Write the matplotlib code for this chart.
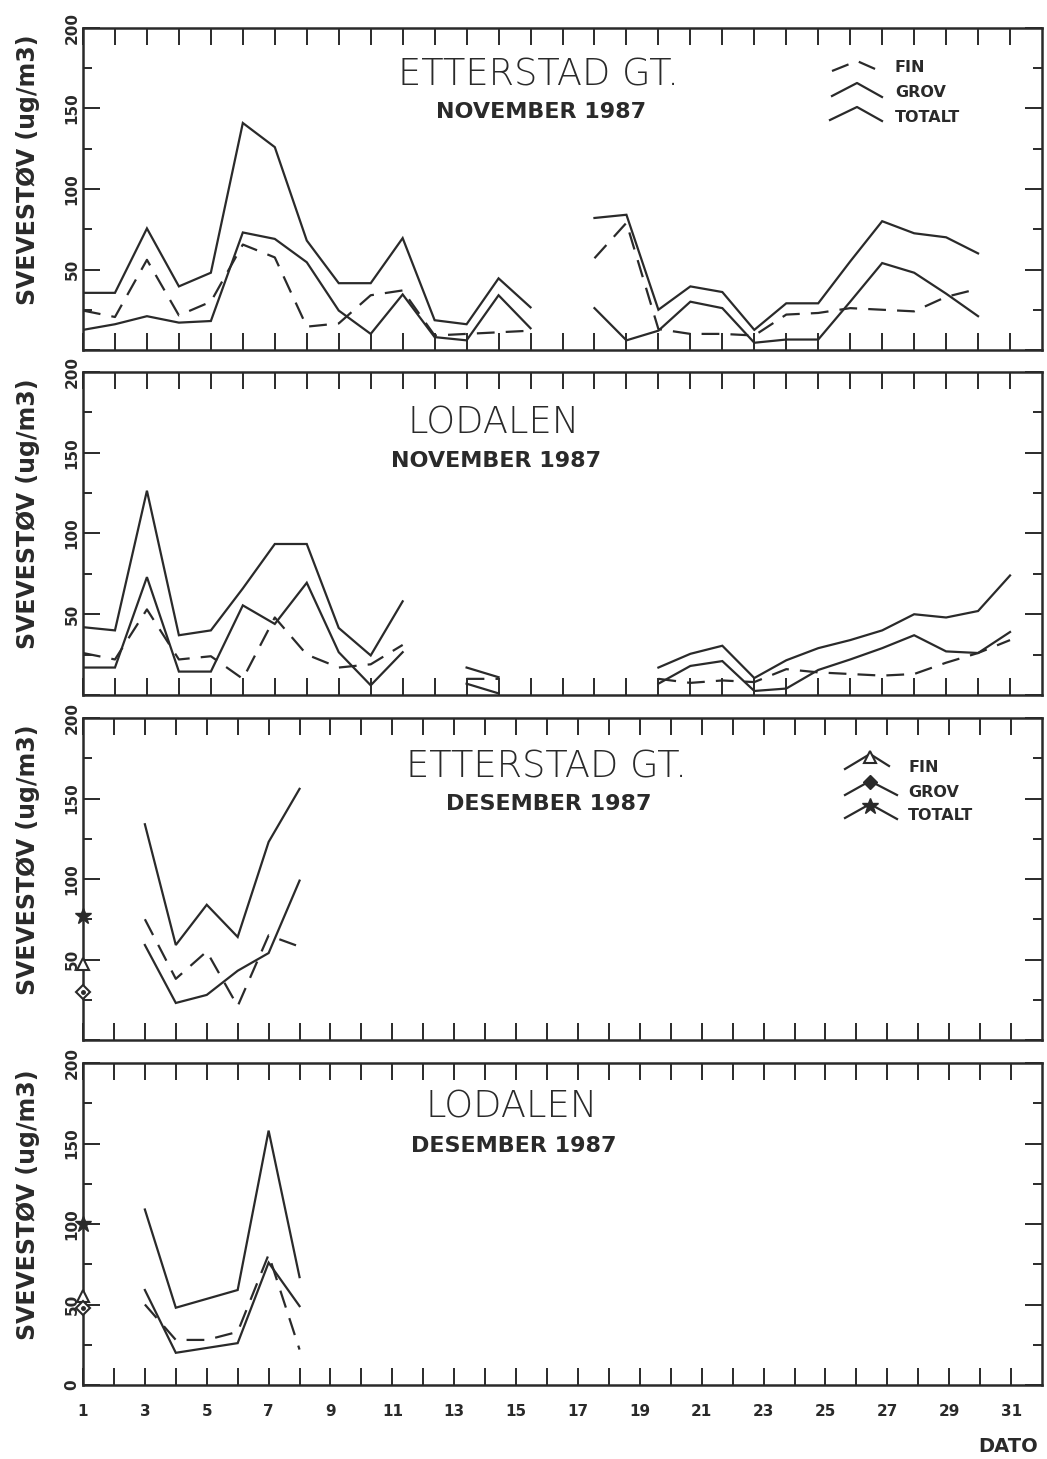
import numpy as np
import matplotlib
matplotlib.use("Agg")
import matplotlib.pyplot as plt
from matplotlib.lines import Line2D
from matplotlib.ticker import MultipleLocator

nan = np.nan

# ---- data -----------------------------------------------------------------
# November 1987, days 1..30 (ug/m3); nan = no measurement
nov_days = np.arange(1, 31)

ett_nov_totalt = [35.5, 35.5, 75.5, 39.5, 48, 141, 126, 68, 41.5, 41.5,
                  69.5, 18.5, 16, 44.5, 26.5, nan, 82, 84, 25, 39.5,
                  36, 12.5, 29, 29, 55, 80, 72.5, 70, 60, nan]
ett_nov_grov = [12.5, 16, 21, 17, 18, 73, 69, 54.5, 24.5, 10,
                34.5, 8, 6, 34, 13.5, nan, 26, 6, 12, 30,
                26, 4.5, 6.5, 6.5, 30, 54, 48, 35, 21, nan]
ett_nov_fin = [24.5, 20.5, 56, 21.5, 30, 65.5, 57.5, 14.5, 16.5, 34,
               37, 9, 10, 11, 12, nan, 57, 79, 13, 10,
               10, 9, 22, 23, 26, 25, 24, 33, 38, nan]

lod_nov_totalt = [42, 40, 126.5, 37, 40, 66, 93.5, 93.5, 41.5, 24.5,
                  58, nan, 17, 11, nan, nan, nan, nan, 17, 25.5,
                  30.5, 10.5, 21.5, 29, 34, 40, 50, 48, 52, 74]
lod_nov_grov = [17, 17, 73, 14.5, 14.5, 55.5, 44, 69.5, 26.5, 6,
                26.5, nan, 7, 1, nan, nan, nan, nan, 7, 18,
                21, 2.5, 4, 15.5, 22, 29, 37, 27, 26, 39]
lod_nov_fin = [26, 22, 53, 22, 24, 10, 48, 25, 17, 19,
               31, nan, 10, 10, nan, nan, nan, nan, 10, 7.5,
               9, 8, 16, 14, 13, 12, 13, 20, 26, 34]

# December 1987, days 3..8
des_days = np.arange(3, 9)
ett_des_totalt = [134, 59, 84, 64, 123, 156]
ett_des_grov = [59, 23, 28, 43, 54, 99]
ett_des_fin = [75, 38, 55, 21, 65, 58]

lod_des_totalt = [109, 48, 53.5, 59, 158, 67]
lod_des_grov = [59, 20, 23, 26, 76, 49]
lod_des_fin = [50, 28, 28, 33, 81, 22]

# values marked on the first day of the December panels
des_mark_day = 1
ett_des_mark = {"FIN": 47, "GROV": 30, "TOTALT": 77}
lod_des_mark = {"FIN": 55, "GROV": 48, "TOTALT": 100}

y_ticks = [0, 50, 100, 150, 200]
y_label = "SVEVESTØV (ug/m3)"
x_label = "DATO"

# ---- figure ---------------------------------------------------------------
W, H = 1047, 1459
INK = "#2a2a2a"
LW = 1.6
DASH = (0, (8, 5))

fig = plt.figure(figsize=(W / 100, H / 100), dpi=100)
fig.patch.set_facecolor("white")


def fx(x):
    return x / W


def fy(y):
    return 1 - y / H


left_px, right_px = 83, 1042
panel_px = [(28, 350), (372, 695), (718, 1040), (1063, 1385)]
axes = [fig.add_axes([fx(left_px), fy(b), (right_px - left_px) / W, (b - t) / H])
        for t, b in panel_px]


def style_axes(ax, x_end, bottom_panel):
    ax.set_xlim(1, x_end)
    ax.set_ylim(0, 200)
    ax.set_xticks(np.arange(1, x_end))
    if bottom_panel:
        ax.set_xticklabels([str(d) if d % 2 else "" for d in range(1, x_end)],
                           fontsize=11, fontweight="bold", color=INK)
    else:
        ax.tick_params(axis="x", labelbottom=False)
    ax.set_yticks(y_ticks)
    # the zero label is only written under the lowest panel
    ylabels = [str(v) if (v > 0 or bottom_panel) else "" for v in y_ticks]
    ax.set_yticklabels(ylabels, rotation=90, va="center",
                       fontsize=11, fontweight="bold", color=INK)
    ax.yaxis.set_minor_locator(MultipleLocator(25))
    ax.tick_params(which="both", direction="in", top=True, right=True,
                   color=INK, width=1.4)
    ax.tick_params(axis="x", which="major", length=12, pad=14)
    ax.tick_params(axis="y", which="major", length=12, pad=2.5)
    ax.tick_params(axis="y", which="minor", length=6.5)
    for sp in ax.spines.values():
        sp.set_linewidth(1.8)
        sp.set_color(INK)
    ax.set_ylabel(y_label, fontsize=17, fontweight="bold", color=INK)
    ax.yaxis.set_label_coords(-0.0574, 0.56)
    ax.yaxis.label.set_va("center")


def draw_series(ax, x, fin, grov, totalt):
    ax.plot(x, totalt, color=INK, lw=LW, solid_joinstyle="miter")
    ax.plot(x, grov, color=INK, lw=LW, solid_joinstyle="miter")
    ax.plot(x, fin, color=INK, lw=LW, linestyle=DASH)


def draw_marks(ax, marks):
    ax.plot([des_mark_day], [marks["TOTALT"]], marker="*", ms=12, color=INK,
            clip_on=False, zorder=5)
    ax.plot([des_mark_day], [marks["FIN"]], marker="^", ms=9, mfc="white",
            mec=INK, mew=1.5, clip_on=False, zorder=5)
    ax.plot([des_mark_day], [marks["GROV"]], marker="D", ms=7, mfc="white",
            mec=INK, mew=1.5, clip_on=False, zorder=5)
    ax.plot([des_mark_day], [marks["GROV"]], marker="o", ms=2.5, color=INK,
            clip_on=False, zorder=6)


style_axes(axes[0], 31, False)
style_axes(axes[1], 31, False)
style_axes(axes[2], 32, False)
style_axes(axes[3], 32, True)

draw_series(axes[0], nov_days, ett_nov_fin, ett_nov_grov, ett_nov_totalt)
draw_series(axes[1], nov_days, lod_nov_fin, lod_nov_grov, lod_nov_totalt)
draw_series(axes[2], des_days, ett_des_fin, ett_des_grov, ett_des_totalt)
draw_series(axes[3], des_days, lod_des_fin, lod_des_grov, lod_des_totalt)
draw_marks(axes[2], ett_des_mark)
draw_marks(axes[3], lod_des_mark)

# ---- panel titles -----------------------------------------------------------
titles = [
    ("ETTERSTAD GT.", (538, 85), "NOVEMBER 1987", (541, 118)),
    ("LODALEN", (494, 433), "NOVEMBER 1987", (496, 467)),
    ("ETTERSTAD GT.", (546, 778), "DESEMBER 1987", (549, 810)),
    ("LODALEN", (512, 1118), "DESEMBER 1987", (514, 1152)),
]
for big, (bx, by), small, (sx, sy) in titles:
    fig.text(fx(bx), fy(by), big, ha="center", va="baseline", fontsize=26.5,
             fontweight="light", color=INK)
    fig.text(fx(sx), fy(sy), small, ha="center", va="baseline", fontsize=16,
             fontweight="bold", color=INK)

# ---- keys ---------------------------------------------------------------------
def chevron(pts, **kw):
    xs = [fx(p[0]) for p in pts]
    ys = [fy(p[1]) for p in pts]
    fig.add_artist(Line2D(xs, ys, transform=fig.transFigure, color=INK, lw=LW, **kw))


def key_text(x, y, s):
    fig.text(fx(x), fy(y), s, ha="left", va="baseline", fontsize=11.5,
             fontweight="bold", color=INK)


# November key: line styles only
chevron([(832, 71), (857, 61), (882, 72)], linestyle=DASH)
chevron([(832, 96), (857, 83), (882, 97)])
chevron([(830, 120), (857, 107), (882, 121)])
key_text(895, 72.5, "FIN")
key_text(895, 97, "GROV")
key_text(895, 122, "TOTALT")

# December key: with markers
chevron([(845, 769), (870, 754), (889, 766)])
chevron([(845, 795), (870, 781), (897, 795)])
chevron([(845, 818), (870, 804), (897, 819)])
fig.add_artist(Line2D([fx(870)], [fy(757)], transform=fig.transFigure, marker="^",
                      ms=9, mfc="white", mec=INK, mew=1.5, linestyle="none"))
fig.add_artist(Line2D([fx(870)], [fy(782)], transform=fig.transFigure, marker="D",
                      ms=7, color=INK, linestyle="none"))
fig.add_artist(Line2D([fx(870)], [fy(806)], transform=fig.transFigure, marker="*",
                      ms=12, color=INK, linestyle="none"))
key_text(908, 772, "FIN")
key_text(908, 797, "GROV")
key_text(908, 820, "TOTALT")

fig.text(fx(1008), fy(1452), x_label, ha="center", va="baseline", fontsize=14,
         fontweight="bold", color=INK)

fig.savefig("out.png", dpi=100, facecolor="white")
